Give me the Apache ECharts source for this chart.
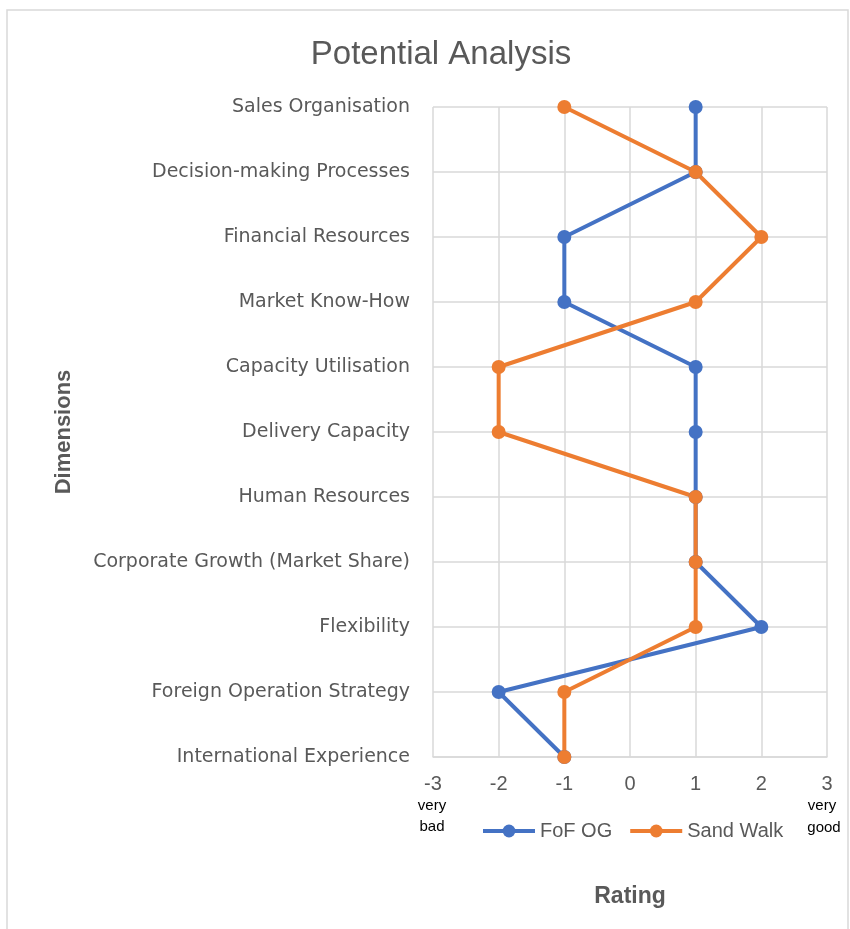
<!DOCTYPE html>
<html>
<head>
<meta charset="utf-8">
<script src="https://cdn.jsdelivr.net/npm/echarts@6/dist/echarts.min.js"></script>
<style>html,body{margin:0;padding:0;background:#fff}#c{width:850px;height:929px}</style>
</head>
<body>
<div id="c"></div>
<script>
var categories = ['Sales Organisation','Decision-making Processes','Financial Resources','Market Know-How','Capacity Utilisation','Delivery Capacity','Human Resources','Corporate Growth (Market Share)','Flexibility','Foreign Operation Strategy','International Experience'];
var fofOG = [1,1,-1,-1,1,1,1,1,2,-2,-1];
var sandWalk = [-1,1,2,1,-2,-2,1,1,1,-1,-1];
var xTicks = [-3,-2,-1,0,1,2,3];

var FONT = 'Liberation Sans, Arial, sans-serif';
var LFONT = 'DejaVu Sans, sans-serif';
var chart = echarts.init(document.getElementById('c'));
function pairs(vals){ return vals.map(function(v,i){ return [v, categories[i]]; }); }
chart.setOption({
  animation:false,
  textStyle:{fontFamily:FONT},
  title:{text:'Potential Analysis',left:436,top:33,textAlign:'center',
    textStyle:{fontSize:33,fontWeight:'normal',color:'#595959',fontFamily:FONT}},
  legend:{data:['FoF OG','Sand Walk'],top:816,itemWidth:52,itemHeight:16,itemGap:16,
    lineStyle:{width:4},
    textStyle:{fontSize:20,color:'#595959',fontFamily:FONT},
    left:476},
  grid:{left:433,right:23,top:107,bottom:172,containLabel:false},
  xAxis:{type:'value',min:xTicks[0],max:xTicks[xTicks.length-1],interval:1,
    axisLine:{show:true,lineStyle:{color:'#d9d9d9',width:1.5}},
    axisTick:{show:false},
    splitLine:{show:true,lineStyle:{color:'#d9d9d9',width:1.5}},
    axisLabel:{fontSize:20,color:'#595959',margin:17,fontFamily:FONT},
    name:'Rating',nameLocation:'middle',nameGap:128,
    nameTextStyle:{fontSize:23,fontWeight:'bold',color:'#595959',fontFamily:FONT}},
  yAxis:{type:'category',data:categories,inverse:true,boundaryGap:false,
    axisLine:{show:false},axisTick:{show:false},
    splitLine:{show:true,lineStyle:{color:'#d9d9d9',width:1.5}},
    axisLabel:{fontSize:19,color:'#595959',margin:23,fontFamily:LFONT,padding:[2,0,0,0]},
    name:'Dimensions',nameLocation:'middle',nameGap:358,nameRotate:90,
    nameTextStyle:{fontSize:22,fontWeight:'bold',color:'#595959',fontFamily:FONT}},
  series:[
    {name:'FoF OG',type:'line',data:pairs(fofOG),symbol:'circle',symbolSize:14,
      itemStyle:{color:'#4472C4'},lineStyle:{color:'#4472C4',width:4}},
    {name:'Sand Walk',type:'line',data:pairs(sandWalk),symbol:'circle',symbolSize:14,
      itemStyle:{color:'#ED7D31'},lineStyle:{color:'#ED7D31',width:4}}
  ],
  graphic:[
    {type:'rect',shape:{x:7,y:10,width:841,height:930},style:{fill:'none',stroke:'#d9d9d9',lineWidth:1.5},silent:true,z:-10},
    {type:'text',x:432,y:806,style:{text:'very',fontSize:15,fill:'#000',align:'center',verticalAlign:'middle',fontFamily:FONT}},
    {type:'text',x:432,y:827,style:{text:'bad',fontSize:15,fill:'#000',align:'center',verticalAlign:'middle',fontFamily:FONT}},
    {type:'text',x:822,y:806,style:{text:'very',fontSize:15,fill:'#000',align:'center',verticalAlign:'middle',fontFamily:FONT}},
    {type:'text',x:824,y:828,style:{text:'good',fontSize:15,fill:'#000',align:'center',verticalAlign:'middle',fontFamily:FONT}}
  ]
});
</script>
</body>
</html>
